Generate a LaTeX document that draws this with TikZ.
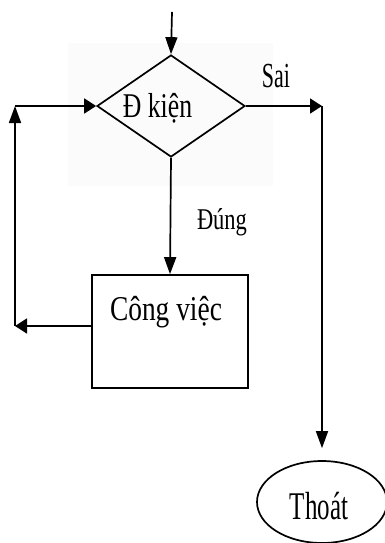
\documentclass[tikz,border=0pt]{standalone}
\usepackage{fontspec}
\setmainfont{Liberation Serif}
\usetikzlibrary{shapes.geometric,arrows.meta,calc}
\tikzset{
  flow/.style={line width=1.7pt},
  varr/.style={flow,-{Triangle[length=17pt,width=12pt]}},
  harr/.style={flow,-{Triangle[length=12pt,width=15pt]}},
  lbl/.style={inner sep=0pt,anchor=base},
}
% label text with its own size and vertical stretch
\newcommand{\lbltext}[3]{\fontsize{#1}{#1}\selectfont\scalebox{1}[#2]{#3}}
\begin{document}
\begin{tikzpicture}[x=1pt,y=-1pt]
  \useasboundingbox (0,0) rectangle (385,543);
  % pale panel behind the decision
  \fill[black!1.5] (68,43) rectangle (273,186);

  % shapes
  \node[draw,flow,diamond,inner sep=0pt,minimum width=148pt,minimum height=102pt] (cond) at (171,106) {};
  \node[draw,flow,rectangle,inner sep=0pt,minimum width=156pt,minimum height=113pt] (work) at (170,331.5) {};
  \node[draw,flow,ellipse,inner sep=0pt,minimum width=130pt,minimum height=82pt] (exit) at (322,502) {};

  % texts
  \node[lbl] (condtxt) at (157.5,117) {\lbltext{25.7}{1.35}{Đ kiện}};
  \node[lbl] (saitxt) at (276,87) {\lbltext{22}{1.6}{Sai}};
  \node[lbl] (dungtxt) at (222,229) {\lbltext{22.5}{1.34}{Đúng}};
  \node[lbl] (worktxt) at (166,320) {\lbltext{27.4}{1.27}{Công việc}};
  \node[lbl] (exittxt) at (319,519) {\lbltext{25}{1.57}{Thoát}};

  % connector points
  \coordinate (entry) at (172,12);
  \coordinate (sai) at (322,106);
  \coordinate (lb) at (15,326);
  \coordinate (lt) at (cond.west -| lb);

  % connectors
  \draw[varr] (entry) -- (cond.north);
  \draw[varr] (cond.south) -- (work.north);
  \draw[harr] (cond.east) -- (sai);
  \draw[varr,shorten >=12pt] (sai) -- (exit.north);
  \draw[harr] (work.west |- lb) -- (lb);
  \draw[varr] (lb) -- (lt);
  \draw[harr] (lt) -- (cond.west);
\end{tikzpicture}
\end{document}
